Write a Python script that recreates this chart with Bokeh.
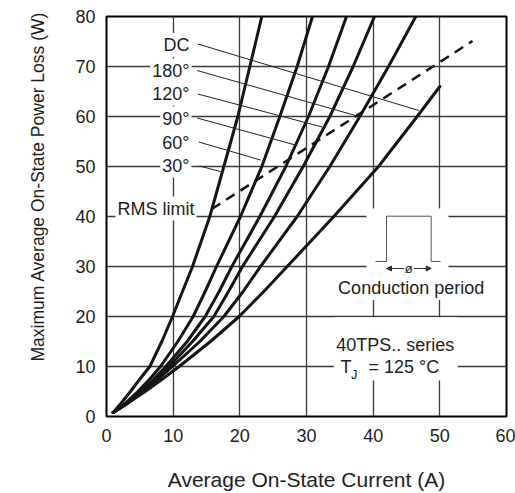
import math
from bokeh.plotting import figure
from bokeh.models import Range1d, FixedTicker, Label, Arrow, NormalHead, Title
from bokeh.embed import file_html
from bokeh.resources import INLINE

# ---- data (current A, power W) ----
levels = [0.8, 2.5, 5, 7.5, 10, 15, 20, 25, 30, 40, 50, 60, 70, 80]
c30_i = [1.0, 2.1, 3.6, 5.0, 6.5, 8.3, 9.9, 11.4, 12.9, 15.5, 17.6, 19.7, 21.5, 23.3]
c60_i = [1.0, 2.7, 4.7, 6.5, 8.1, 10.7, 13.0, 14.8, 16.5, 20.1, 23.3, 26.0, 28.6, 30.9]
c90_i = [1.0, 2.9, 5.1, 7.1, 8.9, 12.1, 14.8, 16.9, 18.8, 23.0, 26.9, 30.3, 33.3, 36.0]
c120_i = [1.0, 3.0, 5.3, 7.5, 9.4, 12.9, 16.1, 18.3, 20.4, 25.2, 29.5, 33.5, 37.0, 40.2]
c180_i = [1.0, 3.0, 5.5, 7.8, 9.9, 14.0, 17.6, 20.5, 23.1, 28.6, 33.5, 38.0, 42.3, 46.4]
dc_levels = [0.8, 2.5, 5, 7.5, 10, 15, 20, 25, 30, 40, 50, 60, 66]
dc_i = [1.0, 3.0, 5.8, 8.4, 10.9, 15.6, 19.9, 23.6, 27.1, 34.1, 40.8, 46.6, 50.0]

rms_i = [15.8, 54.9]
rms_p = [41.5, 75.1]

x_ticks = [0, 10, 20, 30, 40, 50, 60]
y_ticks = [0, 10, 20, 30, 40, 50, 60, 70, 80]

curve_labels = ["DC", "180°", "120°", "90°", "60°", "30°"]
label_p = [74.3, 69.2, 64.6, 59.6, 54.8, 50.2]
label_x = 12.75
leader_x0 = [13.7, 13.6, 13.7, 13.6, 13.85, 13.95]
leader_y0 = [74.5, 69.2, 64.5, 59.7, 54.9, 50.1]
leader_x1 = [46.85, 37.35, 32.35, 28.6, 23.1, 17.35]
leader_y1 = [61.2, 60.2, 57.9, 54.2, 51.3, 48.9]

pulse_x = [40.35, 42.0, 42.0, 48.7, 48.7, 50.1]
pulse_y = [31.0, 31.0, 40.06, 40.06, 31.0, 31.0]

FONT = "Liberation Sans"
TXT = "#1e1e1e"

p = figure(width=515, height=493, output_backend="svg", toolbar_location=None,
           x_range=Range1d(0, 60), y_range=Range1d(0, 80),
           min_border_left=106, min_border_right=9, min_border_top=16,
           min_border_bottom=76)
p.background_fill_color = "white"
p.border_fill_color = "white"
p.outline_line_color = "black"
p.outline_line_width = 2

for ax, ticks in ((p.xaxis, x_ticks), (p.yaxis, y_ticks)):
    ax.ticker = FixedTicker(ticks=ticks)
    ax.axis_line_color = None
    ax.major_tick_line_color = None
    ax.minor_tick_line_color = None
    ax.major_tick_out = 0
    ax.major_label_text_font = FONT
    ax.major_label_text_font_size = "18px"
    ax.major_label_text_color = TXT
p.xaxis.major_label_standoff = 12
p.yaxis.major_label_standoff = 11
p.xaxis.axis_label = "Average On-State Current (A)"
p.xaxis.axis_label_text_font = FONT
p.xaxis.axis_label_text_font_size = "21px"
p.xaxis.axis_label_text_font_style = "normal"
p.xaxis.axis_label_text_color = TXT
p.xaxis.axis_label_standoff = 23

ytitle = Title(text="Maximum Average On-State Power Loss (W)", align="left", offset=55,
               standoff=50, text_font=FONT, text_font_size="17.5px",
               text_font_style="normal", text_color=TXT)
p.add_layout(ytitle, "left")

for g in (p.xgrid, p.ygrid):
    g.grid_line_color = "#3a3a3a"
    g.grid_line_width = 1.3

# white areas that interrupt the grid
p.quad(left=[39.0, 34.1], right=[51.3, 52.7], bottom=[23.6, 7.2], top=[41.6, 19.85],
       fill_color="white", line_color=None)

# curves
for xs, ys in ((c30_i, levels), (c60_i, levels), (c90_i, levels),
               (c120_i, levels), (c180_i, levels), (dc_i, dc_levels)):
    p.line(xs, ys, line_color="#151515", line_width=3, line_join="round", line_cap="round")

p.line(rms_i, rms_p, line_color="#151515", line_width=2.5, line_dash="10 7")

p.segment(leader_x0, leader_y0, leader_x1, leader_y1, line_color="#222222", line_width=1)

# conduction period inset
p.line(pulse_x, pulse_y, line_color="#555555", line_width=1)
p.add_layout(Arrow(x_start=44.6, y_start=29.6, x_end=42.0, y_end=29.6,
                   line_color="#333333", line_width=1,
                   end=NormalHead(size=5, fill_color="#333333", line_color="#333333")))
p.add_layout(Arrow(x_start=46.1, y_start=29.6, x_end=48.7, y_end=29.6,
                   line_color="#333333", line_width=1,
                   end=NormalHead(size=5, fill_color="#333333", line_color="#333333")))


def lab(x, y, text, size="18px", align="center", bg=True):
    kw = dict(x=x, y=y, text=text, text_font=FONT, text_font_size=size,
              text_color=TXT, text_align=align, text_baseline="middle")
    if bg:
        kw.update(background_fill_color="white", padding=2)
    p.add_layout(Label(**kw))


for t, yy in zip(curve_labels, label_p):
    lab(label_x, yy, t, align="right")
lab(13.5, 41.6, "RMS limit", align="right")
lab(45.35, 29.6, "ø", size="13px", bg=False)
lab(45.7, 25.7, "Conduction period")
lab(43.3, 14.4, "40TPS.. series", bg=False)
lab(35.1, 9.86, "T", align="left", bg=False)
lab(36.67, 8.5, "J", size="13px", align="left", bg=False)
lab(39.3, 9.86, "= 125 °C", align="left", bg=False)

open("out.html", "w").write(file_html(p, INLINE))
